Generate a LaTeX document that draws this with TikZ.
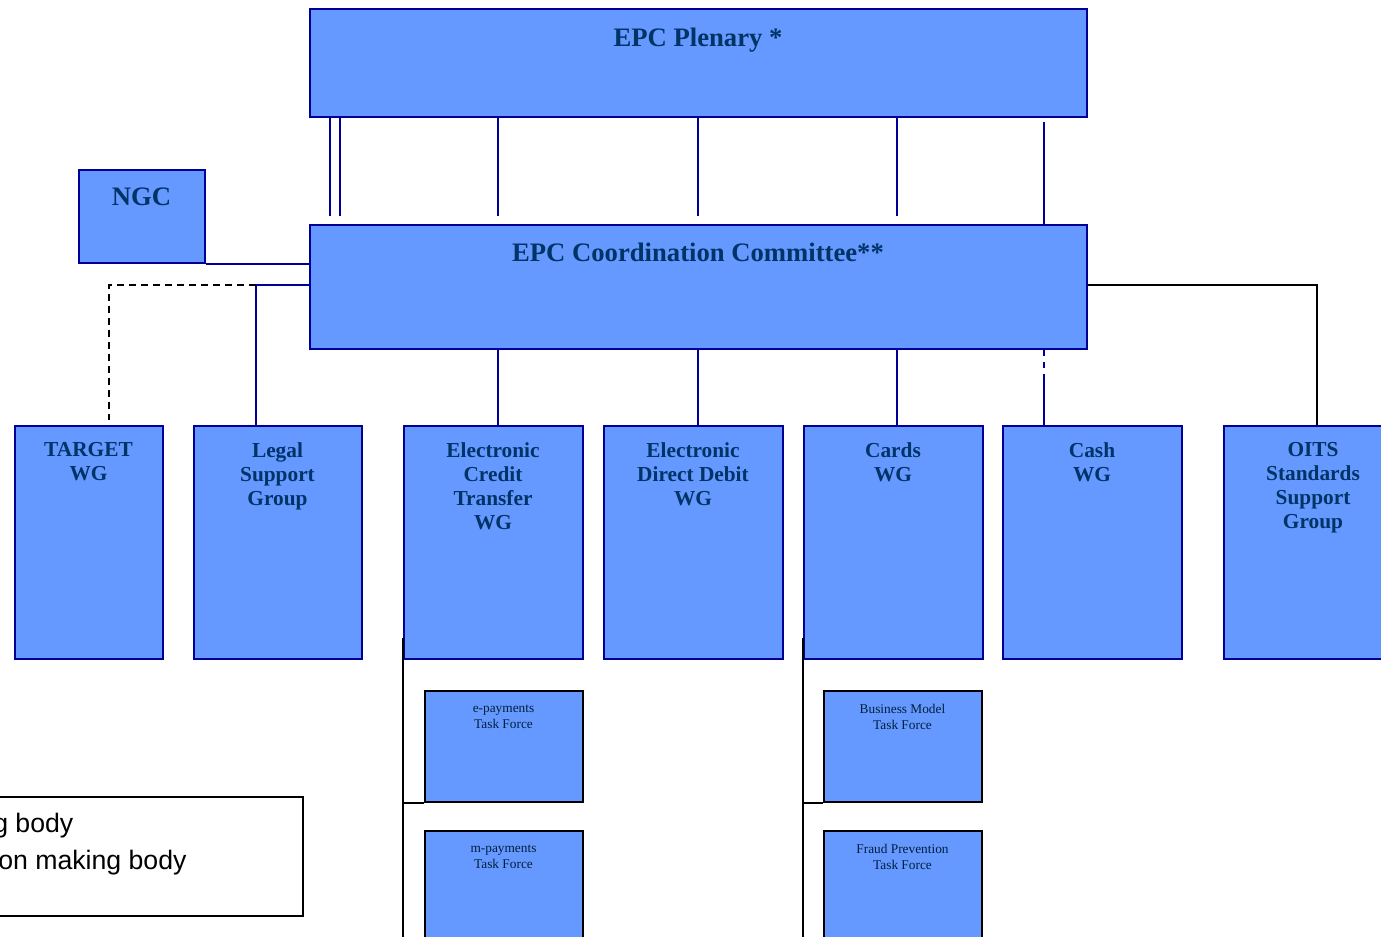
\documentclass[tikz,border=0pt]{standalone}
\usepackage{fontspec}
\setmainfont{Liberation Serif}
\newfontfamily\legfont{Liberation Sans}
\definecolor{epcfill}{HTML}{6699FF}
\definecolor{epcline}{HTML}{000099}
\definecolor{epctext}{HTML}{003366}
\def\px{0.75pt}
\tikzset{
  box/.style={draw=epcline, fill=epcfill, line width=1.5pt, anchor=north west, inner sep=0pt},
  wg/.style={box, minimum width=179*\px, minimum height=232*\px},
  tf/.style={box, draw=black, minimum width=158*\px, minimum height=111*\px},
  ttl/.style={anchor=north, inner sep=0pt, text=epctext, font=\bfseries\fontsize{20}{22}\selectfont},
  wglbl/.style={anchor=north, align=center, inner sep=0pt, text=epctext, font=\bfseries\fontsize{16}{18}\selectfont},
  tflbl/.style={anchor=north, align=center, inner sep=0pt, text=epctext!60!black, font=\fontsize{10}{12}\selectfont},
  legtxt/.style={anchor=base west, inner sep=0pt, font=\legfont\fontsize{20}{22}\selectfont},
  bl/.style={draw=epcline, line width=1.5pt},
  blk/.style={draw=black, line width=1.5pt}
}
\begin{document}
\begin{tikzpicture}[x=0.75pt, y=-0.75pt]
  \useasboundingbox (0,0) rectangle (1381,937);
  \clip (0,0) rectangle (1381,937);

  % top bodies
  \node[box, minimum width=777*\px, minimum height=108*\px] (plen) at (308.5,8.5) {};
  \node[ttl] (plenT) at ([yshift=-19*\px]plen.north) {EPC Plenary *};
  \node[box, minimum width=126*\px, minimum height=93*\px] (ngc) at (77.5,169.5) {};
  \node[ttl] (ngcT) at ([yshift=-18*\px]ngc.north) {NGC};
  \node[box, minimum width=777*\px, minimum height=124*\px] (cc) at (308.5,224.5) {};
  \node[ttl] (ccT) at ([yshift=-18*\px]cc.north) {EPC Coordination Committee**};

  % working groups
  \node[wg, minimum width=148*\px] (tgt) at (13.5,425.5) {};
  \node[wglbl] (tgtT) at ([yshift=-17*\px]tgt.north) {TARGET\\WG};
  \node[wg, minimum width=168*\px] (legal) at (192.5,425.5) {};
  \node[wglbl] (legalT) at ([yshift=-17*\px]legal.north) {Legal\\Support\\Group};
  \node[wg] (ect) at (402.5,425.5) {};
  \node[wglbl] (ectT) at ([yshift=-17*\px]ect.north) {Electronic\\Credit\\Transfer\\WG};
  \node[wg] (edd) at (602.5,425.5) {};
  \node[wglbl] (eddT) at ([yshift=-17*\px]edd.north) {Electronic\\Direct Debit\\WG};
  \node[wg] (cards) at (802.5,425.5) {};
  \node[wglbl] (cardsT) at ([yshift=-17*\px]cards.north) {Cards\\WG};
  \node[wg] (cash) at (1001.5,425.5) {};
  \node[wglbl] (cashT) at ([yshift=-17*\px]cash.north) {Cash\\WG};
  \node[wg] (oits) at (1222.5,425.5) {};
  \node[wglbl] (oitsT) at ([yshift=-17*\px]oits.north) {OITS\\Standards\\Support\\Group};

  % task forces
  \node[tf] (epay) at (423.5,689.5) {};
  \node[tflbl] (epayT) at ([yshift=-15*\px]epay.north) {e-payments\\Task Force};
  \node[tf] (mpay) at (423.5,829.5) {};
  \node[tflbl] (mpayT) at ([yshift=-15*\px]mpay.north) {m-payments\\Task Force};
  \node[tf] (bm) at (822.5,689.5) {};
  \node[tflbl] (bmT) at ([yshift=-14*\px]bm.north) {Business Model\\Task Force};
  \node[tf] (fraud) at (822.5,829.5) {};
  \node[tflbl] (fraudT) at ([yshift=-14*\px]fraud.north) {Fraud Prevention\\Task Force};

  % Plenary -- CC
  \foreach \x in {330,340,498,698,897}
    \draw[bl] (plen.south -| \x,0) -- (\x,216);
  \draw[bl] (1044,122) -- (cc.north -| 1044,0);

  % CC -- WG
  \foreach \x/\n in {498/ect,698/edd,897/cards}
    \draw[bl] (cc.south -| \x,0) -- (\n.north -| \x,0);
  \draw[bl, dash pattern=on 4.5pt off 4.5pt on 4.5pt off 4.5pt on 80pt]
    (cc.south -| 1044,0) -- (cash.north -| 1044,0);

  % side branches
  \coordinate (jL) at (256,285);
  \coordinate (jT) at (109,285);
  \coordinate (jO) at (1317,285);
  \draw[bl] (ngc.south east) -- (cc.west |- ngc.south east);
  \draw[bl] (cc.west |- jL) -- (jL) -- (legal.north -| jL);
  \draw[black, line width=1.5pt, dash pattern=on 5.5pt off 3.5pt] (jL) -- (jT) -- (109,420);
  \draw[blk] (cc.east |- jO) -- (jO) -- (oits.north -| jO);

  % task force links
  \foreach \w/\a/\b in {403/epay/mpay,803/bm/fraud} {
    \draw[blk] (\w,638) -- (\w,945);
    \draw[blk] (\a.south west -| \w,0) -- (\a.south west);
  }

  % legend
  \draw[blk] (-10,797) rectangle (303,916);
  \node[legtxt] (leg1) at (-7,832) {g body};
  \node[legtxt] (leg2) at (-2,869) {on making body};
\end{tikzpicture}
\end{document}
